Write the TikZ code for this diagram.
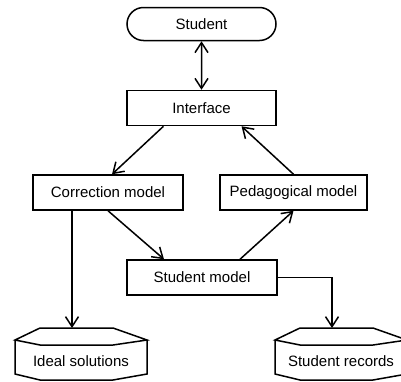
\documentclass[tikz,border=0pt]{standalone}
\usepackage{fontspec}
\setmainfont{Liberation Sans}
\usetikzlibrary{arrows.meta,shapes.misc}

\begin{document}
\begin{tikzpicture}[x=1pt,y=-1pt,line width=1.5pt,
  >={Straight Barb[length=10pt,width=13pt]},
  txt/.style={font=\fontsize{15}{17}\selectfont,inner sep=0pt},
  box/.style={txt,draw,rectangle,minimum height=35pt}]
\useasboundingbox (0,0) rectangle (401,381);
\node[txt,draw,rounded rectangle,minimum width=149pt,minimum height=33pt] (stud) at (201.5,24){Student};
\node[box,minimum width=149pt] (iface) at (201.5,108){Interface};
\node[box,minimum width=150pt] (corr) at (108,192.5){Correction model};
\node[box,minimum width=147pt] (ped) at (293.5,192.5){Pedagogical model};
\node[box,minimum width=150pt] (smodel) at (202,277.5){Student model};
\node[txt] (ideal) at (81,361){Ideal solutions};
\node[txt] (records) at (341,361){Student records};
\draw (15,340) -- (40,328) -- (113,328) -- (147,340) -- (113,345) -- (40,345) -- cycle;
\draw (15,340) -- (15,374) -- (40,380) -- (113,380) -- (147,374) -- (147,340);
\draw (275,340) -- (300,328) -- (373,328) -- (407,340) -- (373,345) -- (300,345) -- cycle;
\draw (275,340) -- (275,374) -- (300,380) -- (373,380) -- (407,374) -- (407,340);
\coordinate (idealtop) at (72,328);
\coordinate (rectop) at (332,328);
\draw[<->] (stud) -- (iface);
\draw[->] ([xshift=-38pt]iface.south) -- ([xshift=4pt]corr.north);
\draw[->] (ped.north) -- ([xshift=40pt]iface.south);
\draw[->] (corr.south) -- ([xshift=-38pt]smodel.north);
\draw[->] ([xshift=38pt]smodel.north) -- (ped.south);
\draw[->] (corr.south -| idealtop) -- (idealtop);
\draw[->] (smodel.east) -| (rectop);
\end{tikzpicture}
\end{document}
